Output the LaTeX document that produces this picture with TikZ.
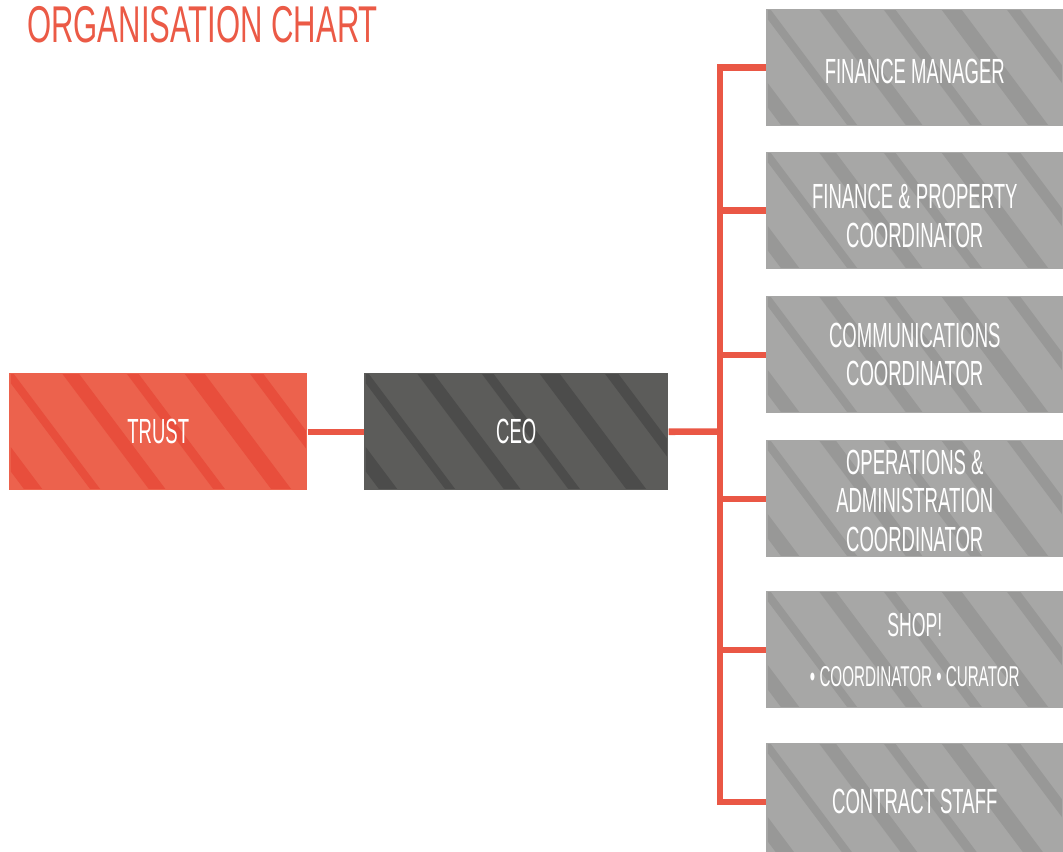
\documentclass[tikz,border=0pt]{standalone}
\usepackage{fontspec}
\newfontfamily\titlefnt[FakeStretch=0.6]{Liberation Sans}
\newfontfamily\boxfnt[FakeStretch=0.53]{Liberation Sans}
\definecolor{linered}{HTML}{EA5745}
\definecolor{titlered}{HTML}{EB5A46}
\definecolor{trustred}{HTML}{EC624D}
\definecolor{trustdark}{HTML}{E84E3C}
\definecolor{ceogrey}{HTML}{5C5C5A}
\definecolor{ceodark}{HTML}{4C4C4B}
\definecolor{boxgrey}{HTML}{A7A7A6}
\definecolor{boxdark}{HTML}{989897}
\tikzset{
  texture/.style={path picture={
    \clip ([shift={(1.5,1.5)}]path picture bounding box.north west)
      rectangle ([shift={(-1.5,-1.5)}]path picture bounding box.south east);
    \foreach \k/\w in {0/8,1/11,2/6,3/10,4/7,5/12,6/8,7/9}
      \draw[line width=\w pt, line cap=butt, #1] (path picture bounding box.north west) ++(\k*62-170,-60) -- ++(180,240);
  }},
  orgbox/.style={minimum height=87.75pt, inner sep=0pt, anchor=north west,
    text=white, align=center, font=\boxfnt\fontsize{26.2}{28.8}\selectfont},
  rolebox/.style={orgbox, minimum width=222.75pt, fill=boxgrey, texture=boxdark},
  link/.style={draw=linered, line width=4.9pt},
}
\begin{document}
\begin{tikzpicture}[x=0.75pt,y=-0.75pt]
\useasboundingbox (0,0) rectangle (1063,852);
\clip (0,0) rectangle (1063,852);

\node[anchor=base west, inner sep=0pt, text=titlered,
      font=\titlefnt\fontsize{38.8}{40}\selectfont] (title) at (27,43) {ORGANISATION CHART};

\node[orgbox, minimum width=223.5pt, fill=trustred, texture=trustdark] (trust) at (9,373) {TRUST};
\node[orgbox, minimum width=228pt, fill=ceogrey, texture=ceodark] (ceo) at (364,373) {CEO};

\node[rolebox, text height=23.3pt] (fm) at (766,9) {FINANCE MANAGER};
\node[rolebox, text height=55.2pt] (fp) at (766,152) {FINANCE \& PROPERTY\\COORDINATOR};
\node[rolebox] (cc) at (766,296) {COMMUNICATIONS\\COORDINATOR};
\node[rolebox, text height=79pt] (oa) at (766,440) {OPERATIONS \&\\ADMINISTRATION\\COORDINATOR};
\node[rolebox, font=\boxfnt\fontsize{25}{37.5}\selectfont] (shop) at (766,591)
  {SHOP!\\{\fontsize{21.5}{37.5}\selectfont • COORDINATOR • CURATOR}};
\node[rolebox] (cs) at (766,743) {CONTRACT STAFF};

\coordinate (jt) at (720,431.5);

\draw[link] (trust.east) -- (ceo.west);
\draw[link] (ceo.east) -- (jt);
\draw[link] (fm.west) -- (jt |- fm.west) -- (jt |- cs.west) -- (cs.west);
\foreach \n in {fp,cc,oa,shop}
  \draw[link] (jt |- \n.west) -- (\n.west);
\end{tikzpicture}
\end{document}
